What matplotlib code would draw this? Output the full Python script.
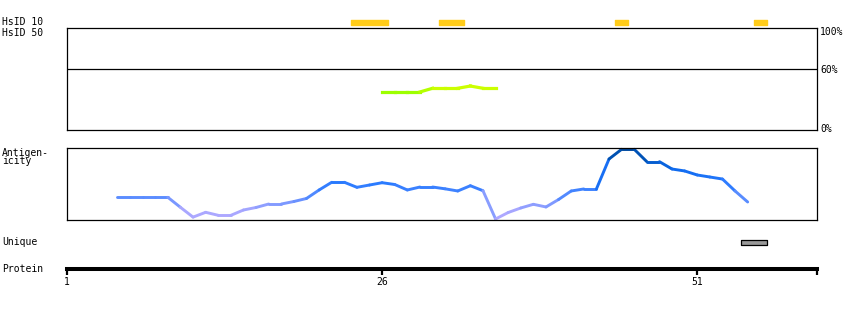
import numpy as np
import matplotlib
matplotlib.use('Agg')
import matplotlib.pyplot as plt
from matplotlib.collections import LineCollection
from matplotlib.colors import LinearSegmentedColormap

# sequence length / tick labels
seq_end = 60.5
protein_ticks = [1, 26, 51]

# HsID 10 hits (residue start, residue end)
hsid10_start = [24, 31, 45, 56]
hsid10_end = [26, 32, 45, 56]

# HsID 50 identity (%) per residue
hsid50_res = [26, 27, 28, 29, 30, 31, 32, 33, 34, 35]
hsid50_pct = [37.3, 37.3, 37.3, 37.3, 40.9, 40.9, 40.9, 43.1, 40.9, 40.9]

# antigenicity score (scaled 0..1) per residue
ag_res = list(range(5, 56))
ag_val = [0.315, 0.315, 0.315, 0.315, 0.315, 0.176, 0.04, 0.107, 0.065, 0.065,
          0.139, 0.174, 0.222, 0.222, 0.257, 0.299, 0.417, 0.524, 0.524, 0.454,
          0.486, 0.518, 0.493, 0.417, 0.458, 0.458, 0.433, 0.403, 0.476, 0.407,
          0.014, 0.104, 0.167, 0.218, 0.181, 0.285, 0.403, 0.431, 0.431, 0.847,
          0.982, 0.982, 0.810, 0.810, 0.708, 0.681, 0.625, 0.597, 0.569, 0.403,
          0.25]

# unique region
unique_start, unique_end = 55, 56

W, H = 850, 310
fig = plt.figure(figsize=(W / 100, H / 100), dpi=100)
FONT = 'DejaVu Sans Mono'
FS = 7


def px_axes(x0, y0, x1, y1):
    # pixel box (top-left origin) -> axes
    return fig.add_axes([x0 / W, 1 - y1 / H, (x1 - x0) / W, (y1 - y0) / H])


def label(x, y, s, **kw):
    fig.text(x / W, 1 - y / H, s, fontsize=FS, family=FONT, va='center', **kw)


# left labels
label(2, 22, 'HsID 10')
label(2, 32.5, 'HsID 50')
label(2, 153, 'Antigen-')
label(2, 161.5, 'icity')
label(2, 242, 'Unique')
label(2, 269, 'Protein')

# HsID 10 track
ax10 = px_axes(67, 19, 817, 26)
ax10.set_xlim(1, seq_end)
ax10.set_ylim(0, 1)
for s, e in zip(hsid10_start, hsid10_end):
    ax10.broken_barh([(s - 0.5, e - s + 1)], (0.1, 0.7), color='#ffcc1a')
ax10.axis('off')

# HsID 50 track
ax50 = px_axes(67, 28, 817, 130)
ax50.set_xlim(1, seq_end)
ax50.set_ylim(0, 100)
ax50.axhline(60, color='black', lw=0.9)
pts = np.column_stack([hsid50_res, hsid50_pct])
segs = np.stack([pts[:-1], pts[1:]], axis=1)
cmap_g = LinearSegmentedColormap.from_list('g', ['#99ff00', '#ccff00'])
seg_v = (np.array(hsid50_pct[:-1]) + np.array(hsid50_pct[1:])) / 2
lc = LineCollection(segs, colors=cmap_g(np.clip((seg_v - 37) / 4, 0, 1)), linewidths=2.3,
                    capstyle='projecting')
ax50.add_collection(lc)
ax50.set_xticks([])
ax50.set_yticks([])
for sp in ax50.spines.values():
    sp.set_linewidth(0.9)
label(820, 32, '100%')
label(820, 70, '60%')
label(820, 129.5, '0%')

# antigenicity track
axag = px_axes(67, 148, 817, 220)
axag.set_xlim(1, seq_end)
axag.set_ylim(0, 1)
cmap_b = LinearSegmentedColormap.from_list(
    'b', [(0, '#b4aaff'), (0.15, '#a4a6ff'), (0.3, '#5f8eff'), (0.5, '#2b7bff'),
          (0.7, '#0f6aef'), (0.85, '#0058c4'), (1.0, '#00489c')])
pts = np.column_stack([ag_res, ag_val])
segs = np.stack([pts[:-1], pts[1:]], axis=1)
seg_v = (np.array(ag_val[:-1]) + np.array(ag_val[1:])) / 2
lc = LineCollection(segs, colors=cmap_b(seg_v), linewidths=2.1, capstyle='round',
                    clip_on=False)
axag.add_collection(lc)
axag.set_xticks([])
axag.set_yticks([])
for sp in axag.spines.values():
    sp.set_linewidth(0.9)

# unique track
axu = px_axes(67, 238, 817, 247)
axu.set_xlim(1, seq_end)
axu.set_ylim(0, 1)
axu.broken_barh([(unique_start - 0.5, unique_end - unique_start + 1)], (0.2, 0.55),
                facecolor='#999999', edgecolor='black', lw=0.9)
axu.axis('off')

# protein axis
axp = px_axes(67, 262, 817, 269)
axp.set_xlim(1, seq_end)
axp.set_ylim(0, 1)
axp.set_yticks([])
for k in ['top', 'left', 'right']:
    axp.spines[k].set_visible(False)
axp.spines['bottom'].set_linewidth(2.9)
axp.set_xticks(protein_ticks + [seq_end])
axp.set_xticklabels([str(t) for t in protein_ticks] + [''], fontsize=FS, family=FONT)
axp.tick_params(axis='x', length=4, width=1.6, pad=1.5)
axp.patch.set_alpha(0)

fig.savefig('out.png', dpi=100)
